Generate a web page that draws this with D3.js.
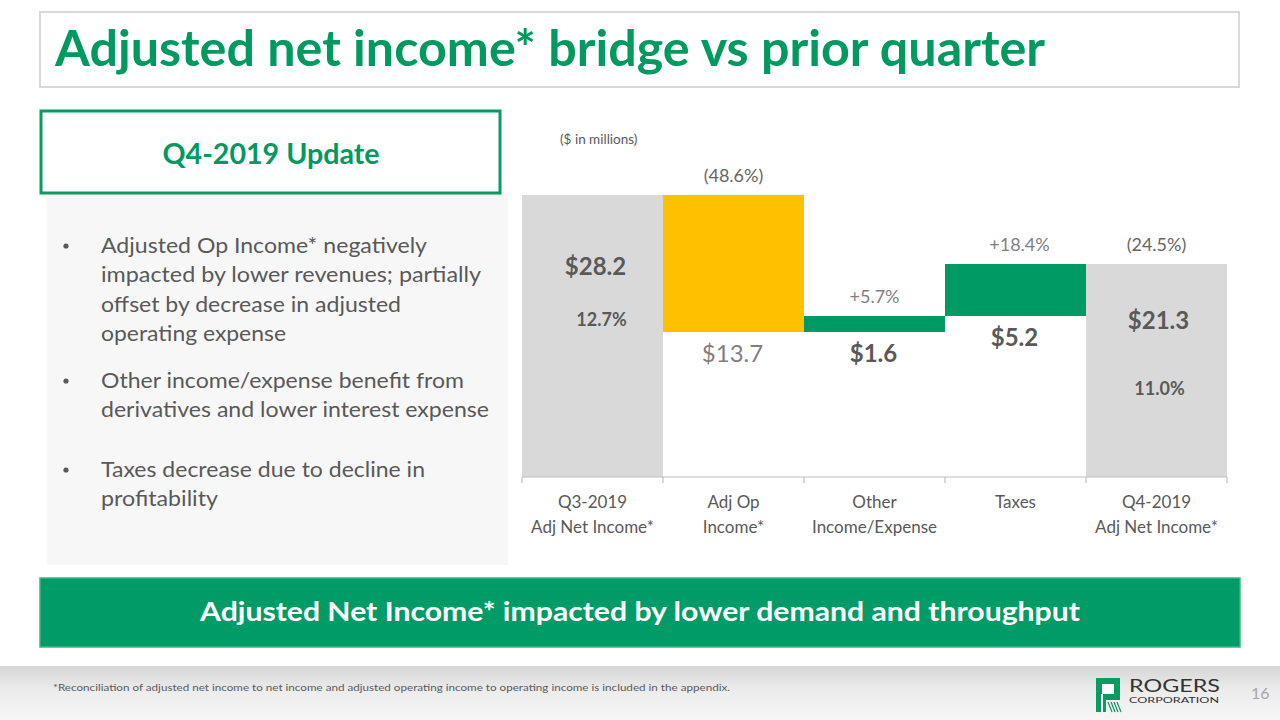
<!DOCTYPE html>
<html>
<head>
<meta charset="utf-8">
<script src="https://cdn.jsdelivr.net/npm/d3@7"></script>
<style>
html,body{margin:0;padding:0;background:#fff;}
svg{display:block;font-family:Lato,"Open Sans",sans-serif;}
</style>
</head>
<body>
<svg id="c" width="1280" height="720"></svg>
<script>
// ---------- data ----------
const categories = [["Q3-2019","Adj Net Income*"],["Adj Op","Income*"],["Other","Income/Expense"],["Taxes"],["Q4-2019","Adj Net Income*"]];
const values = [28.2, -13.7, 1.6, 5.2, 21.3];
const barTypes = ["total","decrease","increase","increase","total"];
const valueLabels = ["$28.2","$13.7","$1.6","$5.2","$21.3"];
const changeLabels = [null,"(48.6%)","+5.7%","+18.4%","(24.5%)"];
const marginLabels = ["12.7%",null,null,null,"11.0%"];
const title = "Adjusted net income* bridge vs prior quarter";
const boxTitle = "Q4-2019 Update";
const bullets = [
  ["Adjusted Op Income* negatively","impacted by lower revenues; partially","offset by decrease in adjusted","operating expense"],
  ["Other income/expense benefit from","derivatives and lower interest expense"],
  ["Taxes decrease due to decline in","profitability"]
];
const banner = "Adjusted Net Income* impacted by lower demand and throughput";
const footnote = "*Reconciliation of adjusted net income to net income and adjusted operating income to operating income is included in the appendix.";
const unitNote = "($ in millions)";
const pageNum = "16";

// ---------- styles ----------
const GREEN = "#009b65", YELLOW = "#ffc000", GREY = "#d9d9d9", TXT = "#595959", TXT2 = "#7f7f7f";
const svg = d3.select("#c");
function fit(sel, w){ return sel.attr("textLength", w).attr("lengthAdjust","spacingAndGlyphs"); }

// gradient for footer
const defs = svg.append("defs");
const g1 = defs.append("linearGradient").attr("id","foot").attr("x1",0).attr("y1",0).attr("x2",0).attr("y2",1);
g1.append("stop").attr("offset","0%").attr("stop-color","#d6d6d6");
g1.append("stop").attr("offset","45%").attr("stop-color","#ececec");
g1.append("stop").attr("offset","100%").attr("stop-color","#f6f6f6");

// ---------- title ----------
svg.append("rect").attr("x",40).attr("y",12).attr("width",1199).attr("height",75)
  .attr("fill","#fff").attr("stroke","#d9d9d9").attr("stroke-width",2);
fit(svg.append("text").attr("x",55).attr("y",66).attr("font-size",50).attr("font-weight",700)
  .attr("fill","#009a61").text(title), 990);

// ---------- left panel ----------
svg.append("rect").attr("x",47).attr("y",194).attr("width",461).attr("height",371).attr("fill","#f7f7f7");
svg.append("rect").attr("x",41).attr("y",111).attr("width",459).attr("height",82)
  .attr("fill","#fff").attr("stroke","#0a9a62").attr("stroke-width",3);
fit(svg.append("text").attr("x",271).attr("y",164).attr("text-anchor","middle").attr("font-size",28)
  .attr("font-weight",700).attr("fill","#009a61").text(boxTitle), 217);

const bulletTop = [253, 388, 477];
const lineWidths = [[326,380,300,185],[363,388],[324,117]];
bullets.forEach((b,i)=>{
  svg.append("circle").attr("cx",66).attr("cy",bulletTop[i]-7).attr("r",2.6).attr("fill",TXT);
  b.forEach((line,j)=>{
    fit(svg.append("text").attr("x",101).attr("y",bulletTop[i]+j*29.3).attr("font-size",21)
      .attr("fill",TXT).text(line), lineWidths[i][j]);
  });
});

// ---------- chart ----------
const x = d3.scaleBand().domain(d3.range(values.length)).range([522,1227]).padding(0);
const y = d3.scaleLinear().domain([0,28.2]).range([477,195]);

let run = 0;
const bars = values.map((v,i)=>{
  let lo, hi;
  if (barTypes[i]==="total"){ lo = 0; hi = v; run = v; }
  else { const s = run; run = run + v; lo = Math.min(s,run); hi = Math.max(s,run); }
  return {i, lo, hi, type: barTypes[i]};
});
const colorOf = t => t==="total" ? GREY : (t==="decrease" ? YELLOW : GREEN);

const chart = svg.append("g");
chart.selectAll("rect.bar").data(bars).join("rect").attr("class","bar")
  .attr("x",d=>x(d.i)).attr("width",x.bandwidth())
  .attr("y",d=>y(d.hi)).attr("height",d=>y(d.lo)-y(d.hi))
  .attr("fill",d=>colorOf(d.type));

// axis
const axis = chart.append("g").attr("transform","translate(0,477)");
axis.append("line").attr("x1",522).attr("x2",1227).attr("stroke","#bfbfbf").attr("stroke-width",1.2);
axis.selectAll("line.tk").data(d3.range(values.length+1)).join("line").attr("class","tk")
  .attr("x1",d=>522+d*x.bandwidth()).attr("x2",d=>522+d*x.bandwidth())
  .attr("y1",0).attr("y2",6).attr("stroke","#bfbfbf").attr("stroke-width",1.2);
categories.forEach((c,i)=>{
  c.forEach((line,j)=>{
    chart.append("text").attr("x",x(i)+x.bandwidth()/2).attr("y",508+j*24.5)
      .attr("text-anchor","middle").attr("font-size",17).attr("fill",TXT).text(line);
  });
});

// labels
const cx = i => x(i)+x.bandwidth()/2;
const totalValueOffset = [80, 65];
bars.forEach((d,i)=>{
  const top = y(d.hi), bot = y(d.lo);
  if (d.type==="total"){
    const k = i===0 ? 0 : 1;
    chart.append("text").attr("x",cx(i)+(i===0?3:2)).attr("y",top+totalValueOffset[k])
      .attr("text-anchor","middle").attr("font-size",24).attr("font-weight",700).attr("fill",TXT)
      .text(valueLabels[i]);
    chart.append("text").attr("x",cx(i)+(i===0?9:3)).attr("y",top+131)
      .attr("text-anchor","middle").attr("font-size",18).attr("font-weight",700).attr("fill",TXT)
      .text(marginLabels[i]);
  } else {
    const dec = d.type==="decrease";
    chart.append("text").attr("x",cx(i)-1).attr("y",bot+30)
      .attr("text-anchor","middle").attr("font-size",24).attr("font-weight",dec?400:700)
      .attr("fill",dec?TXT2:TXT).text(valueLabels[i]);
  }
  if (changeLabels[i]){
    const neg = changeLabels[i].startsWith("(");
    chart.append("text").attr("x",cx(i)+(i===3?4:0)).attr("y",top-13)
      .attr("text-anchor","middle").attr("font-size",18).attr("fill",neg?"#666":TXT2)
      .text(changeLabels[i]);
  }
});
chart.append("text").attr("x",560).attr("y",144).attr("font-size",13.5).attr("fill",TXT).text(unitNote);

// ---------- banner ----------
svg.append("rect").attr("x",40).attr("y",578).attr("width",1200).attr("height",69)
  .attr("fill","#009b66").attr("stroke","#3fb585").attr("stroke-width",1.5);
fit(svg.append("text").attr("x",640).attr("y",621).attr("text-anchor","middle").attr("font-size",27)
  .attr("font-weight",700).attr("fill","#fff").text(banner), 880);

// ---------- footer ----------
svg.append("rect").attr("x",0).attr("y",666).attr("width",1280).attr("height",54).attr("fill","url(#foot)");
fit(svg.append("text").attr("x",53).attr("y",691).attr("font-size",10).attr("fill",TXT).text(footnote), 677);

// logo
const lg = svg.append("g").attr("transform","translate(1096,678)");
lg.append("path").attr("d","M0,0 H24 V22 H10 V34 H0 Z").attr("fill","#0a9a62");
lg.append("path").attr("d","M6,6 H18 V16 H6 Z").attr("fill","#fff");
lg.append("path").attr("d","M6,16 V34").attr("stroke","#fff").attr("stroke-width",2);
[0,1,2,3].forEach(k=>lg.append("line").attr("x1",12+k*3).attr("y1",24).attr("x2",16+k*3).attr("y2",34)
  .attr("stroke","#0a9a62").attr("stroke-width",1.2));
fit(svg.append("text").attr("x",1129).attr("y",692).attr("font-size",18).attr("fill","#333")
  .text("ROGERS"), 91);
fit(svg.append("text").attr("x",1129).attr("y",703).attr("font-size",8).attr("fill","#333")
  .text("CORPORATION"), 90);
svg.append("text").attr("x",1251).attr("y",699).attr("font-size",16).attr("fill","#a6a6a6").text(pageNum);
</script>
</body>
</html>
